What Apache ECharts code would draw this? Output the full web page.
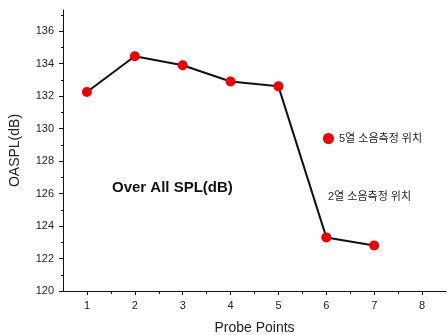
<!DOCTYPE html>
<html>
<head>
<meta charset="utf-8">
<script src="https://cdn.jsdelivr.net/npm/echarts@6/dist/echarts.min.js"></script>
<style>
  html, body { margin: 0; padding: 0; background: #fff; }
  #main { width: 447px; height: 335px; }
</style>
</head>
<body>
<div id="main"></div>
<script>
// 측정 위치 (Probe Points)
var probePoints = [1, 2, 3, 4, 5, 6, 7];
// OASPL 값 (dB)
var oaspl = [132.25, 134.45, 133.9, 132.9, 132.6, 123.3, 122.8];
// 축 눈금
var xTicks = [1, 2, 3, 4, 5, 6, 7, 8];
var xMinorTicks = [1.5, 2.5, 3.5, 4.5, 5.5, 6.5, 7.5];
var yTicks = [120, 122, 124, 126, 128, 130, 132, 134, 136];
var yMinorTicks = [121, 123, 125, 127, 129, 131, 133, 135, 137];

var seriesData = probePoints.map(function (p, i) { return [p, oaspl[i]]; });

var font = 'Arial, "Liberation Sans", "Noto Sans CJK KR", sans-serif';

var myChart = echarts.init(document.getElementById('main'));
myChart.setOption({
    animation: false,
    title: {
        text: 'Over All SPL(dB)',
        left: 107,
        top: 175,
        textStyle: { fontFamily: font, fontSize: 15, fontWeight: 'bold', color: '#111' }
    },
    legend: {
        left: 318,
        top: 128,
        icon: 'circle',
        itemWidth: 11,
        itemHeight: 11,
        itemGap: 6,
        textStyle: { fontFamily: font, fontSize: 11, color: '#222' },
        data: ['5열 소음측정 위치']
    },
    graphic: [{
        type: 'text',
        left: 328,
        top: 191,
        style: { text: '2열 소음측정 위치', font: '11px ' + font, fill: '#222' }
    }],
    grid: { left: 63, right: 1, top: 10, bottom: 44, outerBoundsMode: 'none', containLabel: false },
    xAxis: [{
        type: 'value',
        min: 0.5,
        max: 8.5,
        name: 'Probe Points',
        nameLocation: 'middle',
        nameGap: 30,
        nameTextStyle: { fontFamily: font, fontSize: 14, color: '#222' },
        axisLine: { lineStyle: { color: '#111', width: 1 } },
        axisTick: { customValues: xTicks, length: 4, lineStyle: { color: '#111' } },
        axisLabel: { customValues: xTicks, fontFamily: font, fontSize: 11, color: '#222', margin: 9 },
        splitLine: { show: false }
    }, {
        type: 'value',
        min: 0.5,
        max: 8.5,
        position: 'bottom',
        axisLine: { show: false },
        axisTick: { customValues: xMinorTicks, length: 3, lineStyle: { color: '#111' } },
        axisLabel: { show: false },
        splitLine: { show: false }
    }],
    yAxis: [{
        type: 'value',
        min: 120,
        max: 137.3,
        name: 'OASPL(dB)',
        nameLocation: 'middle',
        nameGap: 41,
        nameTextStyle: { fontFamily: font, fontSize: 14, color: '#222' },
        axisLine: { show: true, lineStyle: { color: '#111', width: 1 } },
        axisTick: { show: true, customValues: yTicks, length: 4, lineStyle: { color: '#111' } },
        axisLabel: { customValues: yTicks, fontFamily: font, fontSize: 11, color: '#222', margin: 9 },
        splitLine: { show: false }
    }, {
        type: 'value',
        min: 120,
        max: 137.3,
        position: 'left',
        axisLine: { show: false },
        axisTick: { show: true, customValues: yMinorTicks, length: 2, lineStyle: { color: '#111' } },
        axisLabel: { show: false },
        splitLine: { show: false }
    }],
    series: [{
        name: '5열 소음측정 위치',
        type: 'line',
        data: seriesData,
        symbol: 'circle',
        symbolSize: 10,
        lineStyle: { color: '#111', width: 2 },
        itemStyle: { color: '#f20000' }
    }]
});
</script>
</body>
</html>
